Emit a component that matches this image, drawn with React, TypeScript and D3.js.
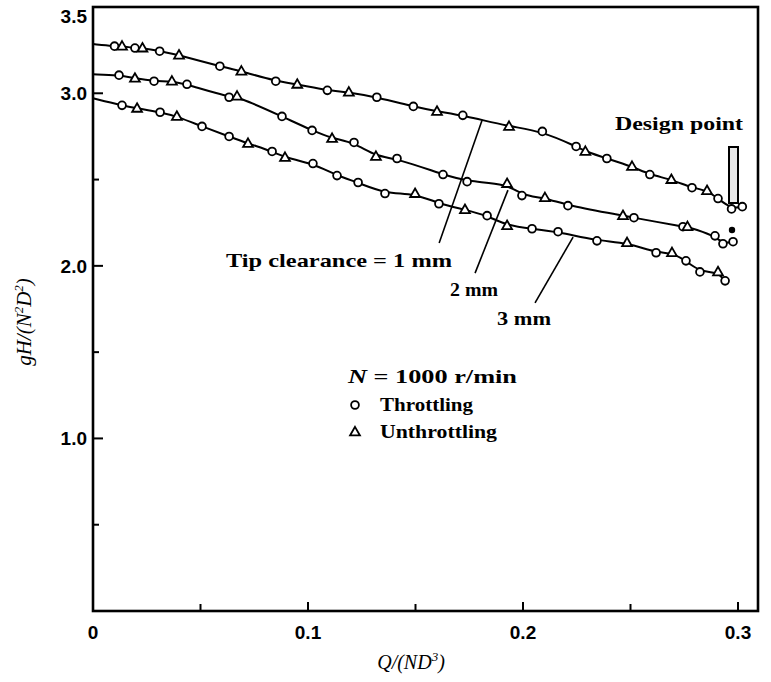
import React from "react";
import * as d3 from "d3";

const W = 771;
const H = 682;

// axis ticks
const xMajor = [0, 0.1, 0.2, 0.3];
const xMajorLabels = ["0", "0.1", "0.2", "0.3"];
const xMinor = [0.05, 0.15, 0.25];
const yMajor = [1.0, 2.0, 3.0, 3.5];
const yMajorLabels = ["1.0", "2.0", "3.0", "3.5"];
const yMinor = [0.5, 1.5, 2.5];

// tip clearance 1 mm  (o = throttling, t = unthrottling, "" = line only)
const q1 = [0, 0.010, 0.0135, 0.0195, 0.023, 0.031, 0.040, 0.059, 0.069, 0.085, 0.095, 0.109, 0.119, 0.132, 0.149, 0.160, 0.172, 0.1935, 0.209, 0.2247, 0.229, 0.239, 0.2507, 0.259, 0.269, 0.2786, 0.2856, 0.2907, 0.297, 0.302];
const h1 = [3.285, 3.273, 3.273, 3.262, 3.262, 3.244, 3.221, 3.157, 3.128, 3.070, 3.052, 3.017, 3.006, 2.977, 2.924, 2.895, 2.872, 2.808, 2.779, 2.692, 2.663, 2.622, 2.576, 2.529, 2.500, 2.453, 2.436, 2.390, 2.330, 2.343];
const m1 = ["", "o", "t", "o", "t", "o", "t", "o", "t", "o", "t", "o", "t", "o", "o", "t", "o", "t", "o", "o", "t", "o", "t", "o", "t", "o", "t", "o", "o", "o"];

// tip clearance 2 mm
const q2 = [0, 0.0121, 0.0195, 0.0284, 0.0367, 0.0437, 0.0633, 0.067, 0.0879, 0.1019, 0.1112, 0.1214, 0.1316, 0.1414, 0.1628, 0.174, 0.1926, 0.1995, 0.2102, 0.2209, 0.2465, 0.2516, 0.2744, 0.2765, 0.2893, 0.293, 0.2977];
const h2 = [3.110, 3.105, 3.087, 3.070, 3.070, 3.052, 2.977, 2.983, 2.866, 2.785, 2.738, 2.715, 2.634, 2.622, 2.529, 2.488, 2.477, 2.407, 2.395, 2.349, 2.291, 2.279, 2.227, 2.227, 2.174, 2.128, 2.140];
const m2 = ["", "o", "t", "o", "t", "o", "o", "t", "o", "o", "t", "o", "t", "o", "o", "o", "t", "o", "t", "o", "t", "o", "o", "t", "o", "o", "o"];

// tip clearance 3 mm
const q3 = [0, 0.0135, 0.0205, 0.0312, 0.039, 0.0507, 0.0633, 0.0721, 0.0833, 0.0893, 0.1023, 0.1135, 0.1233, 0.1358, 0.1498, 0.1609, 0.173, 0.1833, 0.1926, 0.2042, 0.2163, 0.2344, 0.2484, 0.2619, 0.2693, 0.2758, 0.2823, 0.2907, 0.294];
const h3 = [2.971, 2.930, 2.913, 2.890, 2.866, 2.808, 2.750, 2.709, 2.663, 2.628, 2.593, 2.523, 2.483, 2.419, 2.419, 2.360, 2.326, 2.291, 2.233, 2.215, 2.198, 2.145, 2.134, 2.076, 2.076, 2.029, 1.965, 1.965, 1.913];
const m3 = ["", "o", "t", "o", "t", "o", "o", "t", "o", "t", "o", "o", "o", "o", "t", "o", "t", "o", "t", "o", "o", "o", "t", "o", "t", "o", "o", "t", "o"];

// leader lines [q0, h0, q1, h1]
const leaders = [
  [0.161, 2.132, 0.181, 2.845],
  [0.1777, 1.958, 0.193, 2.439],
  [0.2056, 1.785, 0.2233, 2.167],
];

const series = [
  { q: q1, h: h1, m: m1 },
  { q: q2, h: h2, m: m2 },
  { q: q3, h: h3, m: m3 },
];

const left = 93, right = 758, top = 7, bottom = 611;

const x = d3.scaleLinear().domain([0, (right - left) / 2150]).range([left, right]);
const y = d3.scaleLinear().domain([0, 3.5]).range([bottom, top]);

const line = d3
  .line<number[]>()
  .x((d) => d[0])
  .y((d) => d[1])
  .curve(d3.curveBasis);

const tri = d3.symbol().type(d3.symbolTriangle).size(42);

function Marker({ kind, cx, cy }: { kind: string; cx: number; cy: number }) {
  if (kind === "o")
    return <circle cx={cx} cy={cy} r={3.9} fill="white" stroke="black" strokeWidth={1.8} />;
  if (kind === "t")
    return (
      <path d={tri() as string} transform={`translate(${cx},${cy + 0.6})`} fill="white" stroke="black" strokeWidth={1.8} />
    );
  return null;
}

const serif = "'Liberation Serif', 'Times New Roman', serif";
const sans = "'Liberation Sans', Arial, sans-serif";

export default function App() {
  return (
    <svg width={W} height={H} style={{ position: "absolute", left: 0, top: 0, background: "white" }}>
      {/* curves */}
      {series.map((s, i) => (
        <path
          key={"l" + i}
          d={line(s.q.map((q, j) => [x(q), y(s.h[j])])) as string}
          fill="none"
          stroke="black"
          strokeWidth={2}
        />
      ))}
      {series.map((s, i) =>
        s.q.map((q, j) => <Marker key={`m${i}-${j}`} kind={s.m[j]} cx={x(q)} cy={y(s.h[j])} />)
      )}

      {/* frame */}
      <rect x={left} y={top} width={right - left} height={bottom - top} fill="none" stroke="black" strokeWidth={2.6} />

      {/* y ticks */}
      {yMajor.map((v, i) => (
        <g key={"ym" + i}>
          {v < 3.5 && <line x1={left} x2={left + 10} y1={y(v)} y2={y(v)} stroke="black" strokeWidth={2} />}
          <text
            x={left - 6}
            y={v === 3.5 ? y(v) + 16 : y(v) + 7}
            textAnchor="end"
            fontFamily={sans}
            fontWeight="bold"
            fontSize={19}
          >
            {yMajorLabels[i]}
          </text>
        </g>
      ))}
      {yMinor.map((v, i) => (
        <line key={"yn" + i} x1={left} x2={left + 6} y1={y(v)} y2={y(v)} stroke="black" strokeWidth={2} />
      ))}

      {/* x ticks */}
      {xMajor.map((v, i) => (
        <g key={"xm" + i}>
          {v > 0 && <line x1={x(v)} x2={x(v)} y1={bottom} y2={bottom - 9} stroke="black" strokeWidth={2} />}
          <text x={x(v)} y={bottom + 28} textAnchor="middle" fontFamily={sans} fontWeight="bold" fontSize={19}>
            {xMajorLabels[i]}
          </text>
        </g>
      ))}
      {xMinor.map((v, i) => (
        <line key={"xn" + i} x1={x(v)} x2={x(v)} y1={bottom} y2={bottom - 7} stroke="black" strokeWidth={2} />
      ))}

      {/* axis titles */}
      <text x={411} y={669} textAnchor="middle" fontFamily={serif} fontStyle="italic" fontSize={20}>
        Q/(ND<tspan dy={-8} fontSize={13}>3</tspan>
        <tspan dy={8}>)</tspan>
      </text>
      <text
        transform="translate(31,322) rotate(-90)"
        textAnchor="middle"
        fontFamily={serif}
        fontStyle="italic"
        fontSize={21}
      >
        gH/(N<tspan dy={-8} fontSize={13}>2</tspan>
        <tspan dy={8}>D</tspan>
        <tspan dy={-8} fontSize={13}>2</tspan>
        <tspan dy={8}>)</tspan>
      </text>

      {/* leaders */}
      {leaders.map((l, i) => (
        <line key={"ld" + i} x1={x(l[0])} y1={y(l[1])} x2={x(l[2])} y2={y(l[3])} stroke="black" strokeWidth={1.6} />
      ))}
      <text x={226} y={267} fontFamily={serif} fontWeight="bold" fontSize={19} textLength={226} lengthAdjust="spacingAndGlyphs">
        Tip clearance = 1 mm
      </text>
      <text x={450} y={296} fontFamily={serif} fontWeight="bold" fontSize={19} textLength={48} lengthAdjust="spacingAndGlyphs">
        2 mm
      </text>
      <text x={497} y={325} fontFamily={serif} fontWeight="bold" fontSize={19} textLength={54} lengthAdjust="spacingAndGlyphs">
        3 mm
      </text>

      {/* design point */}
      <text x={615} y={130} fontFamily={serif} fontWeight="bold" fontSize={19} textLength={128} lengthAdjust="spacingAndGlyphs">
        Design point
      </text>
      <rect x={729} y={147} width={9} height={56} fill="#e8e8e8" stroke="black" strokeWidth={2} />
      <circle cx={732} cy={230} r={3.2} fill="black" />

      {/* legend */}
      <text x={348} y={383} fontFamily={serif} fontWeight="bold" fontSize={18} textLength={169} lengthAdjust="spacingAndGlyphs">
        <tspan fontStyle="italic">N</tspan> = 1000 r/min
      </text>
      <Marker kind="o" cx={355} cy={405} />
      <text x={380} y={411} fontFamily={serif} fontWeight="bold" fontSize={18} textLength={93} lengthAdjust="spacingAndGlyphs">
        Throttling
      </text>
      <Marker kind="t" cx={355} cy={432} />
      <text x={380} y={438} fontFamily={serif} fontWeight="bold" fontSize={18} textLength={117} lengthAdjust="spacingAndGlyphs">
        Unthrottling
      </text>
    </svg>
  );
}
